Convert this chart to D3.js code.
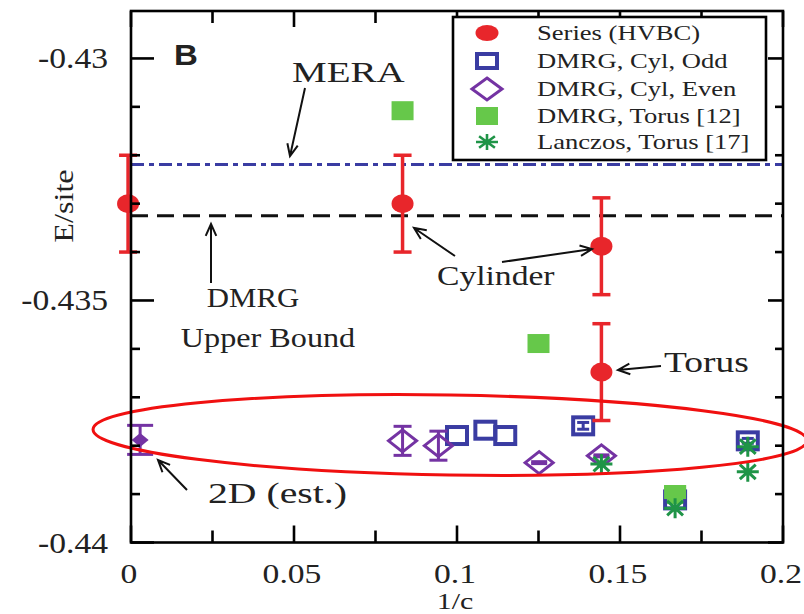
<!DOCTYPE html>
<html><head><meta charset="utf-8">
<script src="https://cdn.jsdelivr.net/npm/d3@7"></script>
<style>body{margin:0;background:#fff;} svg{display:block;}</style>
</head><body>
<svg id="c" width="804" height="614"></svg>
<script>
// ---------------- DATA ----------------
const hvbcX   = [-0.0009, 0.0833, 0.1443, 0.1443];
const hvbcY   = [-0.43300, -0.43300, -0.43388, -0.43648];
const hvbcErr = [0.001, 0.001, 0.001, 0.001];

const oddX   = [0.1000, 0.1087, 0.1148, 0.1387, 0.1669, 0.1892];
const oddY   = [-0.43779, -0.43768, -0.43779, -0.43759, -0.43912, -0.43790];
const oddErr = [0, 0, 0, 0.00007, 0, 0.00005];

const evenX   = [0.0833, 0.0943, 0.1252, 0.1443];
const evenY   = [-0.43790, -0.43800, -0.43835, -0.43821];
const evenErr = [0.0003, 0.0003, 0.00002, 0.00002];

const torusX = [0.0833, 0.1250, 0.1669];
const torusY = [-0.43109, -0.43590, -0.43902];

const lanczosX = [0.1443, 0.1669, 0.1892, 0.1892];
const lanczosY = [-0.43838, -0.43929, -0.43802, -0.43854];

const est2dX = [0.0028];
const est2dY = [-0.43788];
const est2dErr = [0.0003];

const meraE = -0.43219;
const dmrgBoundE = -0.43325;

const xTicks = [0, 0.05, 0.1, 0.15, 0.2];
const xTickLabels = ["0", "0.05", "0.1", "0.15", "0.2"];
const xMinor = [0.025, 0.075, 0.125, 0.175];
const yTicks = [-0.44, -0.435, -0.43];
const yTickLabels = ["-0.44", "-0.435", "-0.43"];
const yMinor = [-0.439, -0.438, -0.437, -0.436, -0.434, -0.433, -0.432, -0.431];

const legendLabels = ["Series (HVBC)", "DMRG, Cyl, Odd", "DMRG, Cyl, Even", "DMRG, Torus [12]", "Lanczos, Torus [17]"];

// ---------------- SETUP ----------------
const RED = "#e8262b", BLUE = "#3a3ca2", PURPLE = "#7433a3", LGREEN = "#66c84a", DGREEN = "#1f9447", INK = "#222";
const svg = d3.select("#c");
const x = d3.scaleLinear().domain([0, 0.2]).range([131, 783]);
const y = d3.scaleLinear().domain([-0.44, -0.42902]).range([542.5, 11]);
const SERIF = "'Liberation Serif','Times New Roman',serif";

function label(px, py, str, fs, sx, anchor) {
  const g = svg.append("g").attr("transform", `translate(${px},${py}) scale(${sx},1)`);
  g.append("text").text(str).attr("font-family", SERIF).attr("font-size", fs)
    .attr("fill", INK).attr("text-anchor", anchor || "start");
  return g;
}
function arrow(x1, y1, x2, y2) {
  const a = Math.atan2(y2 - y1, x2 - x1), L = 13, h = 0.42;
  const p = d3.path();
  p.moveTo(x1, y1); p.lineTo(x2, y2);
  p.moveTo(x2 - L * Math.cos(a - h), y2 - L * Math.sin(a - h)); p.lineTo(x2, y2);
  p.lineTo(x2 - L * Math.cos(a + h), y2 - L * Math.sin(a + h));
  svg.append("path").attr("d", p.toString()).attr("fill", "none").attr("stroke", "#111").attr("stroke-width", 2);
}
function errbar(g, cx, yv, err, color, capW, sw) {
  g.append("line").attr("x1", cx).attr("x2", cx).attr("y1", y(yv - err)).attr("y2", y(yv + err))
    .attr("stroke", color).attr("stroke-width", sw);
  [yv - err, yv + err].forEach(v => g.append("line").attr("x1", cx - capW / 2).attr("x2", cx + capW / 2)
    .attr("y1", y(v)).attr("y2", y(v)).attr("stroke", color).attr("stroke-width", sw));
}
function diamondPath(cx, cy, w, h) { return `M${cx},${cy - h}L${cx + w},${cy}L${cx},${cy + h}L${cx - w},${cy}Z`; }
function asterisk(g, cx, cy, rx, ry, color, sw) {
  const p = d3.path();
  p.moveTo(cx - rx, cy); p.lineTo(cx + rx, cy);
  p.moveTo(cx, cy - ry); p.lineTo(cx, cy + ry);
  const dx = rx * 0.72, dy = ry * 0.72;
  p.moveTo(cx - dx, cy - dy); p.lineTo(cx + dx, cy + dy);
  p.moveTo(cx - dx, cy + dy); p.lineTo(cx + dx, cy - dy);
  g.append("path").attr("d", p.toString()).attr("stroke", color).attr("stroke-width", sw).attr("fill", "none");
}

// ---------------- REFERENCE LINES ----------------
svg.append("line").attr("x1", x(0)).attr("x2", x(0.2)).attr("y1", y(meraE)).attr("y2", y(meraE))
  .attr("stroke", BLUE).attr("stroke-width", 3).attr("stroke-dasharray", "13,5,5,5");
svg.append("line").attr("x1", x(0)).attr("x2", x(0.2)).attr("y1", y(dmrgBoundE)).attr("y2", y(dmrgBoundE))
  .attr("stroke", "#111").attr("stroke-width", 3.2).attr("stroke-dasharray", "17,9");

// ---------------- DATA MARKS ----------------
const gm = svg.append("g");
torusX.forEach((v, i) => gm.append("rect").attr("x", x(v) - 11).attr("y", y(torusY[i]) - 10)
  .attr("width", 22).attr("height", 19).attr("fill", LGREEN));
oddX.forEach((v, i) => {
  gm.append("rect").attr("x", x(v) - 10).attr("y", y(oddY[i]) - 8.5).attr("width", 20).attr("height", 17)
    .attr("fill", "none").attr("stroke", BLUE).attr("stroke-width", 4);
  if (oddErr[i] > 0) errbar(gm, x(v), oddY[i], oddErr[i], BLUE, 12, 3);
});
gm.append("rect").attr("x", x(torusX[2]) - 11).attr("y", y(torusY[2]) - 10)
  .attr("width", 22).attr("height", 14).attr("fill", LGREEN);
evenX.forEach((v, i) => {
  gm.append("path").attr("d", diamondPath(x(v), y(evenY[i]), 14, 11)).attr("fill", "none")
    .attr("stroke", PURPLE).attr("stroke-width", 3);
  errbar(gm, x(v), evenY[i], evenErr[i], PURPLE, i < 2 ? 18 : 16, 3);
});
est2dX.forEach((v, i) => {
  errbar(gm, x(v), est2dY[i], est2dErr[i], PURPLE, 26, 3);
  gm.append("path").attr("d", diamondPath(x(v), y(est2dY[i]), 8.5, 7)).attr("fill", PURPLE);
});
lanczosX.forEach((v, i) => asterisk(gm, x(v), y(lanczosY[i]), 11, 10, DGREEN, 3));
hvbcX.forEach((v, i) => {
  errbar(gm, x(v), hvbcY[i], hvbcErr[i], RED, 18, 3.5);
  gm.append("ellipse").attr("cx", x(v)).attr("cy", y(hvbcY[i])).attr("rx", 11).attr("ry", 9.5).attr("fill", RED);
});

// ---------------- ELLIPSE HIGHLIGHT ----------------
svg.append("ellipse").attr("cx", 450).attr("cy", 435).attr("rx", 357).attr("ry", 40)
  .attr("transform", "rotate(0.9,450,435)").attr("fill", "none").attr("stroke", "#f01010").attr("stroke-width", 3);

// ---------------- FRAME + TICKS ----------------
const gf = svg.append("g").attr("stroke", "#000").attr("stroke-width", 2.6);
gf.append("rect").attr("x", x(0)).attr("y", y(-0.42902)).attr("width", x(0.2) - x(0)).attr("height", y(-0.44) - y(-0.42902))
  .attr("fill", "none");
xTicks.forEach(v => {
  gf.append("line").attr("x1", x(v)).attr("x2", x(v)).attr("y1", y(-0.44)).attr("y2", y(-0.44) - 17);
  gf.append("line").attr("x1", x(v)).attr("x2", x(v)).attr("y1", y(-0.42902)).attr("y2", y(-0.42902) + 16);
});
xMinor.forEach(v => {
  gf.append("line").attr("x1", x(v)).attr("x2", x(v)).attr("y1", y(-0.44)).attr("y2", y(-0.44) - 12);
  gf.append("line").attr("x1", x(v)).attr("x2", x(v)).attr("y1", y(-0.42902)).attr("y2", y(-0.42902) + 12);
});
yTicks.forEach(v => {
  gf.append("line").attr("x1", x(0)).attr("x2", x(0) + 23).attr("y1", y(v)).attr("y2", y(v));
  gf.append("line").attr("x1", x(0.2)).attr("x2", x(0.2) - 15).attr("y1", y(v)).attr("y2", y(v));
});
yMinor.forEach(v => {
  gf.append("line").attr("x1", x(0)).attr("x2", x(0) + 9).attr("y1", y(v)).attr("y2", y(v));
  gf.append("line").attr("x1", x(0.2)).attr("x2", x(0.2) - 8).attr("y1", y(v)).attr("y2", y(v));
});

// tick labels
xTickLabels.forEach((s, i) => label(x(xTicks[i]) - 2, 583, s, 28, 1.2, "middle"));
yTickLabels.forEach((s, i) => label(108, y(yTicks[i]) + 10, s, 30, 1.12, "end"));
// axis titles
label(x(0.1) - 2, 608.5, "1/c", 23, 1.3, "middle");
svg.append("g").attr("transform", "translate(73,206) rotate(-90) scale(1.15,1)")
  .append("text").text("E/site").attr("font-family", SERIF).attr("font-size", 28).attr("fill", INK).attr("text-anchor", "middle");

// ---------------- ANNOTATIONS ----------------
svg.append("g").attr("transform", "translate(174,65) scale(1.1,1)").append("text").text("B")
  .attr("font-family", "'Liberation Sans',Arial,sans-serif").attr("font-weight", "bold").attr("font-size", 30).attr("fill", INK);
label(292, 82, "MERA", 30, 1.3, "start");
arrow(305, 88, 290, 156);
label(253, 307, "DMRG", 28, 1.1, "middle");
label(268, 347, "Upper Bound", 28, 1.15, "middle");
arrow(211, 283, 211, 224);
label(437, 285, "Cylinder", 28, 1.2, "start");
arrow(455, 256, 414, 228);
arrow(502, 262, 592, 249);
label(664, 372, "Torus", 30, 1.25, "start");
arrow(661, 366, 618, 370);
label(208, 503, "2D (est.)", 29, 1.37, "start");
arrow(187, 490, 158, 460);

// ---------------- LEGEND ----------------
svg.append("rect").attr("x", 453).attr("y", 17).attr("width", 313).attr("height", 143)
  .attr("fill", "#fff").attr("stroke", "#000").attr("stroke-width", 2.6);
const rowsY = [33, 61, 89, 116, 142];
const lg = svg.append("g");
const lx = 487;
lg.append("ellipse").attr("cx", lx).attr("cy", rowsY[0]).attr("rx", 11.5).attr("ry", 8).attr("fill", RED);
lg.append("rect").attr("x", lx - 10).attr("y", rowsY[1] - 7).attr("width", 20).attr("height", 14)
  .attr("fill", "none").attr("stroke", BLUE).attr("stroke-width", 4);
lg.append("path").attr("d", diamondPath(lx, rowsY[2], 15, 11)).attr("fill", "none").attr("stroke", PURPLE).attr("stroke-width", 3);
lg.append("rect").attr("x", lx - 11).attr("y", rowsY[3] - 9).attr("width", 22).attr("height", 18).attr("fill", LGREEN);
asterisk(lg, lx, rowsY[4], 11, 8, DGREEN, 2.6);
legendLabels.forEach((s, i) => label(537, rowsY[i] + 7, s, 20, 1.33, "start"));
</script>
</body></html>
